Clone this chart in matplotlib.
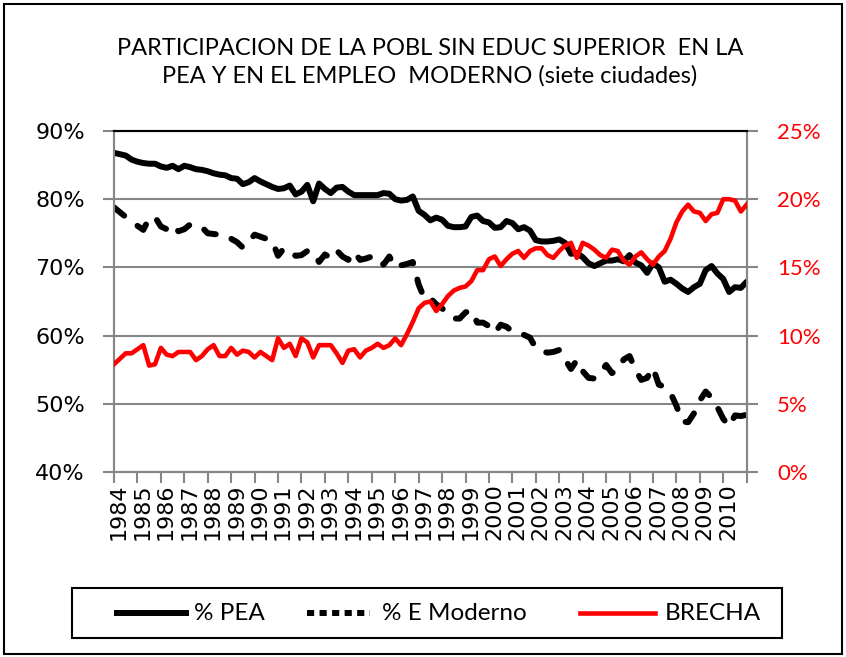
import numpy as np
import matplotlib
matplotlib.use('Agg')
import matplotlib.pyplot as plt
from matplotlib.patches import Rectangle
from matplotlib.lines import Line2D

# quarterly series, 1984 Q1 onwards (values in %)
pea = [
    86.8, 86.6, 86.4, 85.8, 85.5, 85.3, 85.2, 85.2, 84.8, 84.6,
    84.9, 84.4, 84.9, 84.7, 84.4, 84.3, 84.1, 83.8, 83.6, 83.5,
    83.1, 83.0, 82.2, 82.5, 83.1, 82.6, 82.2, 81.8, 81.5, 81.6,
    82.0, 80.7, 81.1, 82.1, 79.7, 82.3, 81.5, 80.9, 81.7, 81.8,
    81.1, 80.6, 80.6, 80.6, 80.6, 80.6, 80.9, 80.8, 80.0, 79.8,
    79.9, 80.4, 78.3, 77.7, 76.9, 77.3, 77.0, 76.1, 75.9, 75.9,
    76.0, 77.4, 77.6, 76.8, 76.6, 75.8, 75.9, 76.8, 76.5, 75.6,
    75.9, 75.4, 74.0, 73.8, 73.8, 73.9, 74.1, 73.6, 72.0, 72.1,
    71.5, 70.6, 70.2, 70.6, 71.0, 71.0, 71.2, 70.9, 71.8, 70.7,
    70.3, 69.2, 70.6, 70.0, 67.9, 68.2, 67.6, 66.9, 66.4, 67.1,
    67.6, 69.6, 70.2, 69.1, 68.3, 66.4, 67.1, 67.0, 67.9]

emod = [
    78.8, 78.1, 77.4, 76.7, 76.1, 75.5, 77.2, 77.4, 76.0, 75.6,
    76.3, 75.3, 75.6, 76.3, 76.2, 75.9, 75.0, 74.9, 74.8, 74.7,
    74.2, 73.7, 72.9, 73.8, 74.8, 74.5, 74.2, 73.9, 71.7, 72.8,
    72.3, 71.7, 71.8, 72.4, 72.3, 70.8, 71.9, 71.4, 72.5, 71.6,
    71.1, 72.3, 71.1, 71.3, 71.6, 71.5, 70.4, 71.6, 70.0, 70.3,
    70.5, 70.8, 67.5, 65.4, 65.5, 64.6, 64.0, 63.2, 62.5, 62.5,
    63.4, 63.7, 61.9, 61.9, 61.4, 60.4, 61.6, 61.3, 60.6, 60.3,
    60.1, 59.7, 58.2, 57.7, 57.5, 57.6, 57.9, 56.5, 55.1, 56.4,
    54.8, 53.8, 53.7, 54.5, 55.7, 54.5, 55.0, 56.5, 57.0, 55.0,
    53.5, 53.8, 55.3, 52.8, 52.5, 51.6, 49.7, 47.4, 47.3, 48.6,
    50.5, 51.8, 50.9, 49.5, 47.8, 46.7, 48.3, 48.2, 48.4]

# right axis
brecha = [
    7.9, 8.3, 8.7, 8.7, 9.0, 9.3, 7.8, 7.9, 9.1, 8.6,
    8.5, 8.8, 8.8, 8.8, 8.2, 8.5, 9.0, 9.3, 8.5, 8.5,
    9.1, 8.6, 8.9, 8.8, 8.4, 8.8, 8.5, 8.2, 9.8, 9.1,
    9.4, 8.5, 9.8, 9.5, 8.4, 9.3, 9.3, 9.3, 8.7, 8.0,
    8.9, 9.0, 8.4, 8.9, 9.1, 9.4, 9.1, 9.3, 9.8, 9.3,
    10.1, 11.0, 12.0, 12.4, 12.5, 11.8, 12.3, 12.9, 13.3, 13.5,
    13.6, 14.0, 14.8, 14.8, 15.6, 15.8, 15.1, 15.6, 16.0, 16.2,
    15.7, 16.2, 16.4, 16.4, 15.9, 15.7, 16.2, 16.6, 16.8, 15.7,
    16.8, 16.6, 16.3, 15.9, 15.7, 16.3, 16.2, 15.5, 15.2, 15.8,
    16.1, 15.6, 15.2, 15.8, 16.2, 17.1, 18.3, 19.1, 19.6, 19.1,
    19.0, 18.4, 18.9, 19.0, 20.0, 20.0, 19.9, 19.1, 19.6]

years = [str(y) for y in range(1984, 2011)]

title = ("PARTICIPACION DE LA POBL SIN EDUC SUPERIOR  EN LA\n"
         "PEA Y EN EL EMPLEO  MODERNO (siete ciudades)")

GRID = '#868686'
RED = '#FF0000'
narrow = ['Lato', 'DejaVu Sans']

fig = plt.figure(figsize=(8.46, 6.57), dpi=100)
ax = fig.add_axes([114/846, 1-472/657, (746.7-114)/846, 341/657])
ax2 = ax.twinx()

x = np.arange(len(pea))
ax.plot(x, pea, color='black', lw=4.3, solid_capstyle='round', solid_joinstyle='round', zorder=3)
ax.plot(x, emod, color='black', lw=4.3, dashes=(2.2, 2.8), dash_capstyle='round', zorder=3)
ax2.plot(x, brecha, color=RED, lw=3.3, solid_joinstyle='round', zorder=3)

ax.set_xlim(0, len(pea)-1)
ax.set_ylim(40, 90)
ax2.set_ylim(0, 25)
ax.set_yticks(np.arange(40, 91, 10))
ax.set_yticklabels(['%d%%' % v for v in range(40, 91, 10)], fontsize=16, family='DejaVu Sans')
ax2.set_yticks(np.arange(0, 26, 5))
ax2.set_yticklabels(['%d%%' % v for v in range(0, 26, 5)], fontsize=16, family=narrow, color=RED)

ax.yaxis.grid(True, color=GRID, lw=1.5)
ax.set_axisbelow(True)

ax.set_xticks(np.arange(0, len(pea), 4))
ax.set_xticklabels([])
ax.set_xticks(np.arange(0, 105, 4) + 0.85, minor=True)
ax.set_xticklabels(years, minor=True, rotation=90, fontsize=16, family='DejaVu Sans')
ax.tick_params(axis='x', which='major', length=8, width=1.5, color=GRID)
ax.tick_params(axis='x', which='minor', length=0, pad=8)
ax.tick_params(axis='y', length=8, width=1.5, color=GRID, pad=13)
ax2.tick_params(axis='y', length=8, width=1.5, color=GRID, pad=14)

for a in (ax, ax2):
    for s in ('left', 'right', 'bottom'):
        a.spines[s].set_color(GRID)
        a.spines[s].set_linewidth(1.5)
    a.spines['top'].set_color('black')
    a.spines['top'].set_linewidth(1.5)

fig.text(430/846, 1-62/657, title, ha='center', va='center', fontsize=17,
         family=narrow, linespacing=1.35)

# legend drawn by hand to match the original spacing
W, H = 846.0, 657.0
ly = 1 - 613/H
fig.patches.append(Rectangle((72/W, 1-638/H), 710/W, 50/H, transform=fig.transFigure,
                             fill=False, edgecolor='black', lw=1.5))
fig.add_artist(Line2D([117/W, 186/W], [ly, ly], color='black', lw=4.3, transform=fig.transFigure))
fig.add_artist(Line2D([307/W, 370/W], [ly, ly], color='black', lw=4.3, dashes=(1.2, 0.9),
                      transform=fig.transFigure))
fig.add_artist(Line2D([580/W, 655/W], [ly, ly], color=RED, lw=3.3, transform=fig.transFigure))
for tx, lab in [(194, '% PEA'), (382, '% E Moderno'), (665, 'BRECHA')]:
    fig.text(tx/W, ly, lab, ha='left', va='center', fontsize=17.5, family=narrow)

fig.patches.append(Rectangle((4/W, 3/H), 838/W, 650/H, transform=fig.transFigure,
                             fill=False, edgecolor='black', lw=1.5))

fig.savefig('out.png', dpi=100)
